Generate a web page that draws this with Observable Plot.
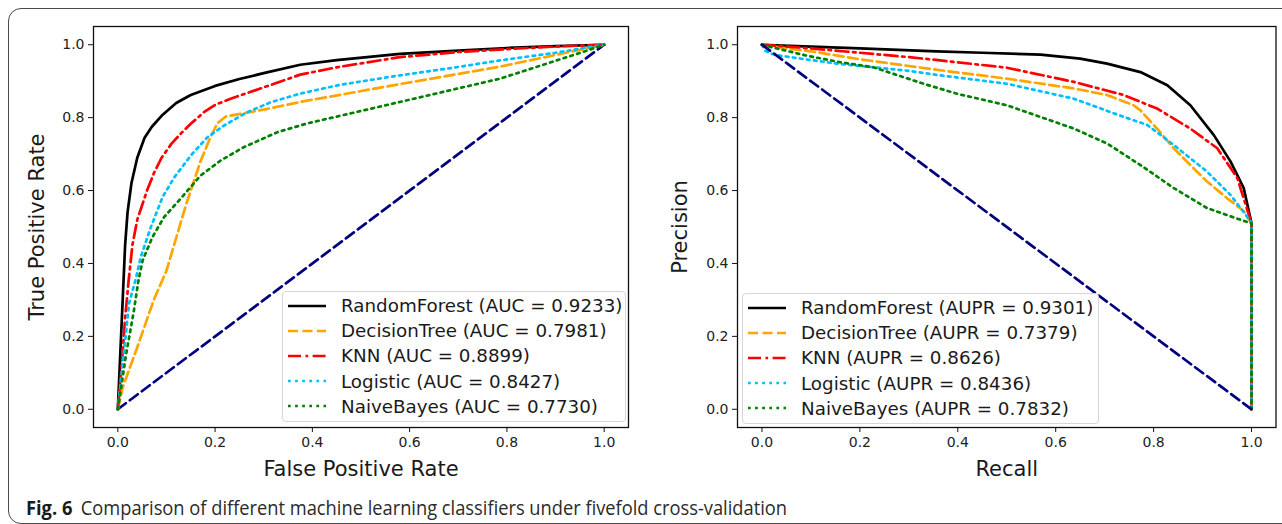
<!DOCTYPE html>
<html>
<head>
<meta charset="utf-8">
<script src="https://cdn.jsdelivr.net/npm/d3@7"></script>
<script src="https://cdn.jsdelivr.net/npm/@observablehq/plot@0.6"></script>
<style>
  html, body { margin: 0; padding: 0; background: #fff; }
  body { width: 1282px; height: 524px; overflow: hidden; position: relative; font-family: "DejaVu Sans", sans-serif; }
  #border { position: absolute; left: 8px; top: 8px; width: 1320px; height: 514px; border: 1.3px solid #4a4a4a; border-radius: 13px; }
  .chart { position: absolute; top: 0; }
  #left { left: 0; }
  #right { left: 640px; }
  .legend { position: absolute; border: 1px solid #d6d6d6; border-radius: 4px; background: rgba(255,255,255,0.85); color: #1a1a1a; font-family: "DejaVu Sans", sans-serif; font-size: 18.3px; box-sizing: border-box; padding-top: 1px; }
  .legend .row { height: 25.2px; display: flex; align-items: center; white-space: nowrap; }
  .legend svg { margin-left: 5px; margin-right: 15px; flex: none; }
  #caption { position: absolute; left: 26px; top: 496px; font-family: "Open Sans", sans-serif; font-size: 19.5px; color: #2a2a2a; white-space: nowrap; transform-origin: 0 0; line-height: 24px; }
  #caption b { color: #1a1a1a; margin-right: 9px; }
</style>
</head>
<body>
<div id="border"></div>
<div id="left" class="chart"></div>
<div id="right" class="chart"></div>
<div id="legendLeft" class="legend" style="left:282px; top:291px; width:344px; height:131px;"></div>
<div id="legendRight" class="legend" style="left:742px; top:293px; width:357px; height:131px;"></div>
<div id="caption"><b>Fig. 6</b>Comparison of different machine learning classifiers under fivefold cross-validation</div>
<script>
// ---------------- data ----------------
const models = ["RandomForest", "DecisionTree", "KNN", "Logistic", "NaiveBayes"];
const aucValues = ["0.9233", "0.7981", "0.8899", "0.8427", "0.7730"];
const auprValues = ["0.9301", "0.7379", "0.8626", "0.8436", "0.7832"];
const tickValues = [0, 0.2, 0.4, 0.6, 0.8, 1.0];

// ROC curves: [false positive rate, true positive rate]
const rocRandomForest = [[0,0],[0.004,0.12],[0.01,0.3],[0.015,0.45],[0.02,0.54],[0.028,0.62],[0.04,0.69],[0.055,0.745],[0.07,0.775],[0.09,0.805],[0.12,0.84],[0.15,0.862],[0.2,0.887],[0.25,0.906],[0.3,0.922],[0.375,0.945],[0.45,0.958],[0.58,0.975],[0.7,0.984],[0.8,0.991],[0.9,0.996],[1,1]];
const rocDecisionTree = [[0,0],[0.01,0.06],[0.04,0.17],[0.074,0.3],[0.1,0.38],[0.14,0.56],[0.17,0.68],[0.19,0.745],[0.205,0.785],[0.222,0.803],[0.3,0.822],[0.375,0.843],[0.58,0.892],[0.786,0.94],[1,1]];
const rocKNN = [[0,0],[0.008,0.12],[0.015,0.25],[0.022,0.35],[0.03,0.45],[0.04,0.52],[0.06,0.6],[0.075,0.65],[0.09,0.69],[0.11,0.728],[0.13,0.757],[0.15,0.783],[0.177,0.815],[0.2,0.835],[0.232,0.852],[0.3,0.883],[0.375,0.918],[0.45,0.938],[0.58,0.966],[0.7,0.98],[0.8,0.988],[0.9,0.995],[1,1]];
const rocLogistic = [[0,0],[0.008,0.1],[0.016,0.2],[0.023,0.29],[0.037,0.358],[0.047,0.417],[0.068,0.5],[0.092,0.582],[0.116,0.636],[0.15,0.696],[0.184,0.746],[0.218,0.778],[0.266,0.815],[0.314,0.842],[0.375,0.866],[0.457,0.89],[0.58,0.916],[0.69,0.937],[0.786,0.957],[0.9,0.978],[1,1]];
const rocNaiveBayes = [[0,0],[0.008,0.07],[0.017,0.15],[0.025,0.21],[0.033,0.27],[0.042,0.35],[0.051,0.408],[0.071,0.472],[0.095,0.527],[0.126,0.573],[0.15,0.61],[0.17,0.641],[0.211,0.682],[0.259,0.719],[0.328,0.76],[0.389,0.784],[0.457,0.805],[0.58,0.843],[0.786,0.907],[0.956,0.98],[1,1]];
const rocChance = [[0,0],[1,1]];

// PR curves: [recall, precision]
const prRandomForest = [[0,1],[0.1,0.995],[0.2,0.99],[0.357,0.982],[0.45,0.978],[0.569,0.973],[0.65,0.962],[0.705,0.948],[0.773,0.925],[0.828,0.889],[0.875,0.834],[0.923,0.752],[0.957,0.68],[0.984,0.607],[1,0.51],[1,0]];
const prDecisionTree = [[0,1],[0.05,0.99],[0.1,0.982],[0.2,0.96],[0.364,0.93],[0.5,0.907],[0.637,0.88],[0.705,0.862],[0.759,0.834],[0.773,0.82],[0.807,0.77],[0.841,0.716],[0.875,0.67],[0.909,0.625],[0.95,0.579],[0.984,0.544],[1,0.51],[1,0]];
const prKNN = [[0,1],[0.1,0.99],[0.2,0.978],[0.3,0.966],[0.364,0.957],[0.5,0.937],[0.637,0.898],[0.739,0.862],[0.807,0.825],[0.875,0.77],[0.93,0.716],[0.971,0.634],[1,0.51],[1,0]];
const prLogistic = [[0,1],[0.006,0.984],[0.02,0.975],[0.037,0.97],[0.1,0.958],[0.16,0.947],[0.296,0.929],[0.364,0.916],[0.5,0.893],[0.637,0.852],[0.739,0.802],[0.787,0.78],[0.841,0.725],[0.909,0.652],[0.957,0.588],[0.99,0.53],[1,0.51],[1,0]];
const prNaiveBayes = [[0,1],[0.03,0.99],[0.091,0.97],[0.16,0.952],[0.228,0.938],[0.33,0.893],[0.4,0.865],[0.5,0.834],[0.637,0.77],[0.705,0.729],[0.773,0.67],[0.841,0.607],[0.909,0.552],[0.977,0.52],[1,0.51],[1,0]];
const prChance = [[0,1],[1,0]];

// ---------------- styles ----------------
const lineStyles = [
  {stroke: "#000000", dash: null},
  {stroke: "#FFA500", dash: "10,4.5"},
  {stroke: "#FF0000", dash: "13,4.5,2.6,4.5"},
  {stroke: "#00BFFF", dash: "2.7,4.4"},
  {stroke: "#008000", dash: "2.7,4.4"}
];
const chanceStyle = {stroke: "#000080", dash: "10,5"};
const LW = 2.7;

function toRows(points) { return points.map(([x, y]) => ({x, y})); }

function makeChart({curves, chance, xLabel, yLabel, width, marginLeft, marginRight, yLabelDx, chanceOnTop}) {
  const fmt = d => d.toFixed(1);
  const curveMarks = curves.map((pts, i) => Plot.line(toRows(pts), {
    x: "x", y: "y", stroke: lineStyles[i].stroke, strokeWidth: LW,
    strokeDasharray: lineStyles[i].dash || undefined, strokeLinejoin: "round"
  }));
  const chanceMark = Plot.line(toRows(chance), {x: "x", y: "y", stroke: chanceStyle.stroke, strokeWidth: LW, strokeDasharray: chanceStyle.dash});
  return Plot.plot({
    width, height: 490,
    marginLeft, marginRight, marginTop: 26, marginBottom: 63,
    x: {domain: [-0.05, 1.05]},
    y: {domain: [-0.05, 1.05]},
    style: {fontFamily: "DejaVu Sans", color: "#222", background: "transparent", overflow: "visible"},
    marks: [
      ...(chanceOnTop ? [] : [chanceMark]),
      ...curveMarks,
      ...(chanceOnTop ? [chanceMark] : []),
      Plot.frame({stroke: "#111", strokeWidth: 1.3}),
      Plot.axisX({ticks: tickValues, tickFormat: fmt, tickSize: 5, tickPadding: 5, label: null, fontSize: 14, stroke: "#111"}),
      Plot.axisY({ticks: tickValues, tickFormat: fmt, tickSize: 5, tickPadding: 4, label: null, fontSize: 14, stroke: "#111"}),
      Plot.text([xLabel], {text: d => d, frameAnchor: "bottom", dy: 48, fontSize: 21, fill: "#1a1a1a", textAnchor: "middle"}),
      Plot.text([yLabel], {text: d => d, frameAnchor: "left", dx: yLabelDx, rotate: -90, fontSize: 21, fill: "#1a1a1a", textAnchor: "middle"})
    ]
  });
}

document.getElementById("left").append(makeChart({
  curves: [rocRandomForest, rocDecisionTree, rocKNN, rocLogistic, rocNaiveBayes],
  chance: rocChance, xLabel: "False Positive Rate", yLabel: "True Positive Rate",
  width: 640, marginLeft: 93, marginRight: 12, yLabelDx: -56, chanceOnTop: false
}));
document.getElementById("right").append(makeChart({
  curves: [prRandomForest, prDecisionTree, prKNN, prLogistic, prNaiveBayes],
  chance: prChance, xLabel: "Recall", yLabel: "Precision",
  width: 642, marginLeft: 97, marginRight: 6.5, yLabelDx: -57, chanceOnTop: true
}));

function buildLegend(el, metric, values) {
  models.forEach((m, i) => {
    const row = document.createElement("div");
    row.className = "row";
    const s = lineStyles[i];
    row.innerHTML = `<svg width="38" height="10"><line x1="0" y1="5" x2="38" y2="5" stroke="${s.stroke}" stroke-width="${LW}" ${s.dash ? `stroke-dasharray="${s.dash}"` : ""}/></svg><span>${m} (${metric} = ${values[i]})</span>`;
    el.append(row);
  });
}
buildLegend(document.getElementById("legendLeft"), "AUC", aucValues);
buildLegend(document.getElementById("legendRight"), "AUPR", auprValues);

const cap = document.getElementById("caption");
const w = cap.getBoundingClientRect().width;
cap.style.transform = `scaleX(${761 / w})`;
</script>
</body>
</html>
